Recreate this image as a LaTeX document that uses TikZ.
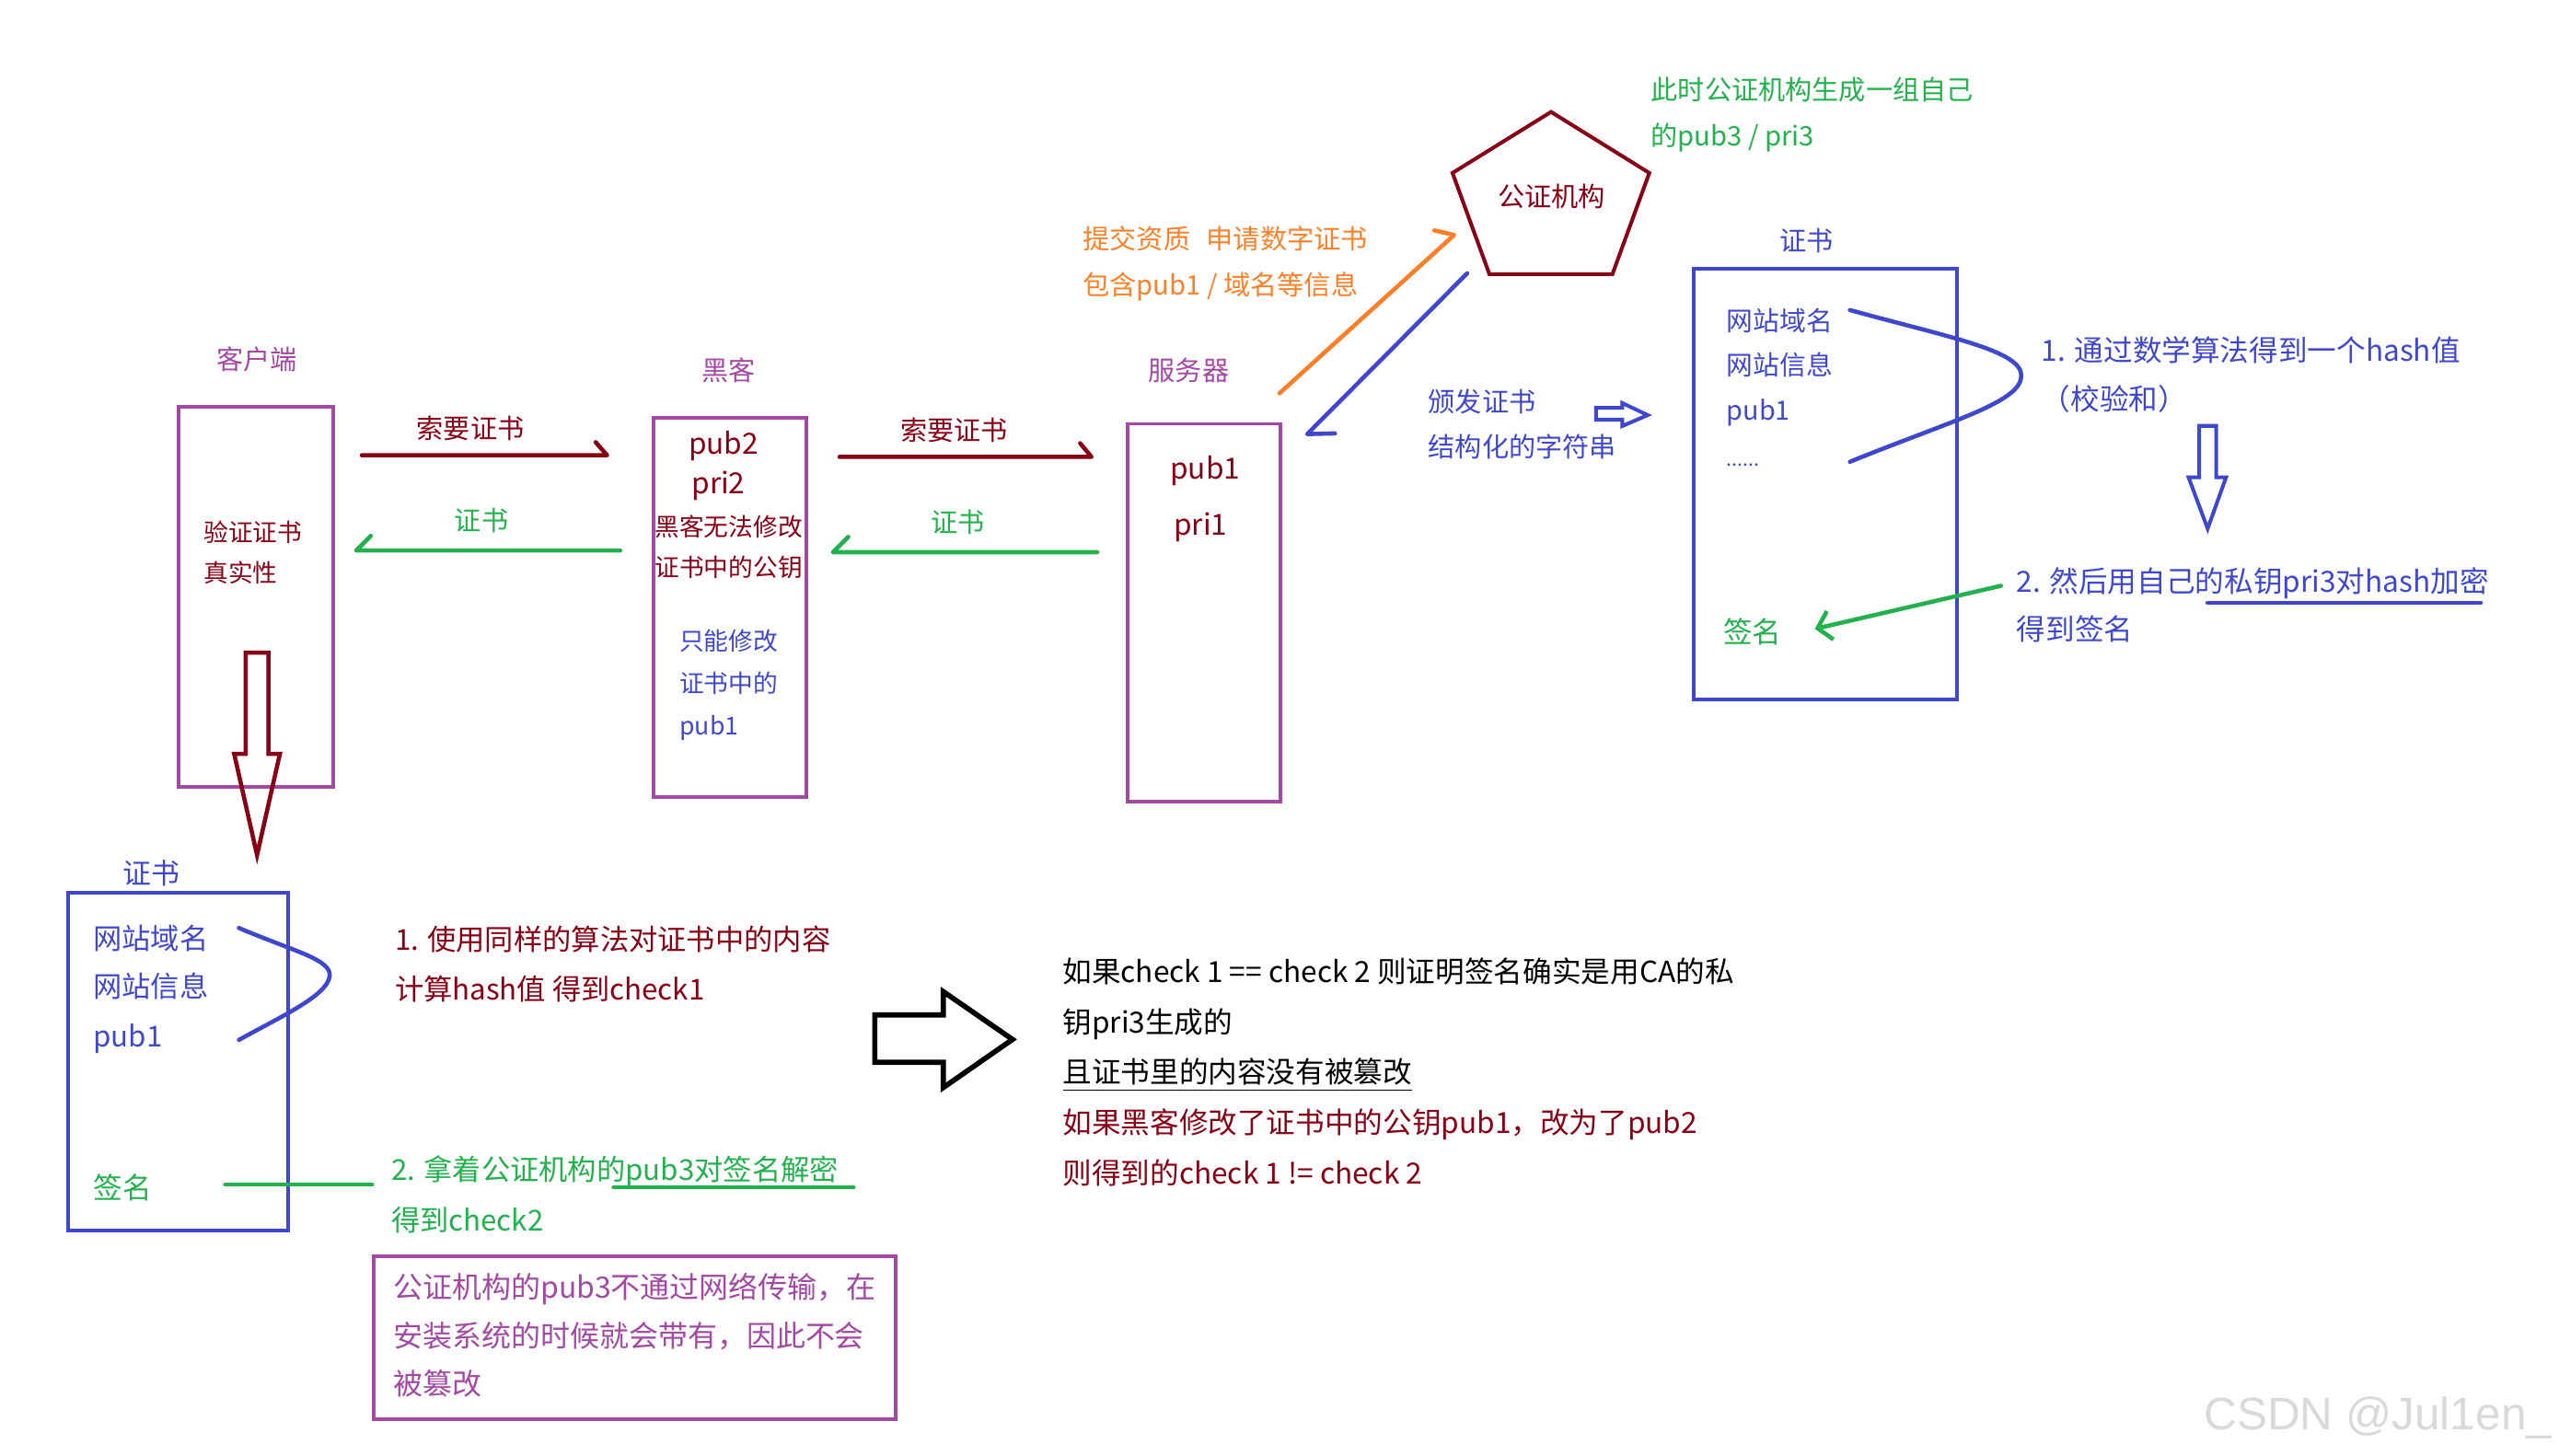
\documentclass[tikz,border=0pt]{standalone}
\usepackage{fontspec}
\setmainfont{Noto Sans CJK SC}
\newfontfamily\wmfont{Liberation Sans}
\usetikzlibrary{arrows.meta}
\definecolor{cpurple}{HTML}{A349A4}
\definecolor{cdred}{HTML}{880015}
\definecolor{cgreen}{HTML}{22B14C}
\definecolor{cblue}{HTML}{3F48CC}
\definecolor{corange}{HTML}{FF7F27}
\newlength\du \setlength\du{0.01773cm}
\newcommand\myfs[2]{\fontsize{#1pt}{#2pt}\selectfont}
\begin{document}
\begin{tikzpicture}[x=0.01773cm,y=-0.01773cm,
  box/.style={draw=#1, line width=1.1pt, inner sep=0, rectangle},
  lbl/.style={inner sep=0, text=#1, font=\myfs{8.3}{14}},
  blk/.style={inner sep=0, anchor=west, align=left},
  stroke/.style={line width=1.3pt, line cap=round, line join=round},
  hollow/.style={line width=1.15pt, line join=miter},
]
\fill[white] (0,0) rectangle (1568,892);
\useasboundingbox (0,0) rectangle (1568,892);

% ---------- client ----------
\node[lbl=cpurple] (clientlbl) at (157.5,220) {客户端};
\node[box=cpurple, minimum width=94.7\du, minimum height=232.7\du] (client) at (156.9,365.7) {};
\node[blk, text=cdred, font=\myfs{7.6}{12.6}] (verify) at (124.5,338.4) {验证证书\\真实性};
\draw[hollow, cdred, line width=1.3pt] (150.5,400) -- (164.5,400) -- (164.5,462) -- (171.5,462) -- (157.5,524) -- (143.5,462) -- (150.5,462) -- cycle;

% ---------- hacker ----------
\node[lbl=cpurple] (hackerlbl) at (446.3,227) {黑客};
\node[box=cpurple, minimum width=93.7\du, minimum height=232.3\du] (hacker) at (447.2,372.2) {};
\node[inner sep=0, text=cdred, font=\myfs{9}{12}] (pub2) at (443.4,273.2) {pub2};
\node[inner sep=0, text=cdred, font=\myfs{9}{12}] (pri2) at (440.2,297.8) {pri2};
\node[inner sep=0, text=cdred, font=\myfs{7.6}{12}] (hk1) at (446.5,323) {黑客无法修改};
\node[inner sep=0, text=cdred, font=\myfs{7.6}{12}] (hk2) at (446.5,347.8) {证书中的公钥};
\node[blk, text=cblue, font=\myfs{7.6}{13}] (hk3) at (416,419.8) {只能修改\\证书中的\\pub1};

% ---------- server ----------
\node[lbl=cpurple] (serverlbl) at (728.4,226.7) {服务器};
\node[box=cpurple, minimum width=93.3\du, minimum height=231.6\du] (server) at (737.7,375.5) {};
\node[inner sep=0, text=cdred, font=\myfs{9}{12}] (pub1s) at (738.4,288.4) {pub1};
\node[inner sep=0, text=cdred, font=\myfs{9}{12}] (pri1s) at (735.7,323) {pri1};

% ---------- client <-> hacker ----------
\coordinate (r1s) at (221.7,279); \coordinate (r1e) at (372,279);
\draw[stroke, cdred] (r1s) -- (r1e) -- ++(-7,-8);
\node[lbl=cdred] (r1lbl) at (288.3,262.7) {索要证书};
\coordinate (c1s) at (380,337.4); \coordinate (c1e) at (218.2,337.4);
\draw[stroke, cgreen] (c1s) -- (c1e) -- ++(9,-9);
\node[lbl=cgreen] (c1lbl) at (295,319) {证书};

% ---------- hacker <-> server ----------
\coordinate (r2s) at (514.4,280); \coordinate (r2e) at (668.8,280);
\draw[stroke, cdred] (r2s) -- (r2e) -- ++(-7,-8.4);
\node[lbl=cdred] (r2lbl) at (584.6,263.7) {索要证书};
\coordinate (c2s) at (672.3,338.4); \coordinate (c2e) at (510.4,338.4);
\draw[stroke, cgreen] (c2s) -- (c2e) -- ++(9.4,-9.4);
\node[lbl=cgreen] (c2lbl) at (587,320) {证书};

% ---------- server <-> CA ----------
\coordinate (os) at (784,241); \coordinate (oe) at (891,144);
\draw[stroke, corange] (os) -- (oe) -- ++(-12.2,-2.8);
\node[blk, text=corange, font=\myfs{8.3}{14.2}] (otxt) at (663.2,161.7) {提交资质\hspace{0.6em}申请数字证书\\包含pub1 / 域名等信息};
\coordinate (bs) at (899,167.5); \coordinate (be) at (801,266);
\draw[stroke, cblue] (bs) -- (be) -- ++(17,-0.4);

% ---------- CA ----------
\draw[line width=1.15pt, cdred, line join=miter] (950.4,68.6) -- (1010.6,106) -- (988,168) -- (912.6,168) -- (890,106) -- cycle;
\node[lbl=cdred] (ca) at (950.8,120.3) {公证机构};
\node[blk, text=cgreen, font=\myfs{8.3}{14.2}] (gtxt) at (1011.3,70.5) {此时公证机构生成一组自己\\的pub3 / pri3};
\node[blk, text=cblue, font=\myfs{8.3}{13.8}] (issue) at (874.8,259.9) {颁发证书\\结构化的字符串};
\draw[hollow, cblue] (978,249.9) -- (994,249.9) -- (994,247) -- (1009.6,254.4) -- (994,261.1) -- (994,257.2) -- (978,257.2) -- cycle;

% ---------- certificate (top) ----------
\node[lbl=cblue] (certlbl) at (1107,147.6) {证书};
\node[box=cblue, minimum width=161\du, minimum height=264\du] (cert) at (1118.5,296.6) {};
\node[inner sep=0, anchor=west, text=cblue, font=\myfs{8.2}{12}] (ct1) at (1057.6,196.5) {网站域名};
\node[inner sep=0, anchor=west, text=cblue, font=\myfs{8.2}{12}] (ct2) at (1057.6,223.7) {网站信息};
\node[inner sep=0, anchor=west, text=cblue, font=\myfs{8.2}{12}] (ct3) at (1057.6,252.9) {pub1};
\node[inner sep=0, anchor=base west, text=cblue, font=\myfs{6}{12}] (ct4) at (1057.6,285.5) {......};
\draw[stroke, cblue] (1133.5,190) .. controls (1195,207) and (1240,215) .. (1238.5,231) .. controls (1237,247) and (1195,258) .. (1133.5,283);
\node[blk, text=cblue, font=\myfs{9}{15.1}] (step1) at (1250.6,229.4) {1. 通过数学算法得到一个hash值\\（校验和）};
\draw[hollow, cblue] (1347.5,261) -- (1358,261) -- (1358,292.5) -- (1364,292.5) -- (1352.7,324) -- (1341,292.5) -- (1347.5,292.5) -- cycle;
\node[blk, text=cblue, font=\myfs{9}{14.7}] (step2) at (1235.3,370.8) {2. 然后用自己的私钥pri3对hash加密\\得到签名};
\coordinate (ul1s) at (1352.6,369.4); \coordinate (ul1e) at (1520,369.4);
\draw[stroke, cblue] (ul1s) -- (ul1e);
\node[inner sep=0, anchor=west, text=cgreen, font=\myfs{9}{12}] (sig) at (1055.5,387.3) {签名};
\coordinate (ga) at (1226,359); \coordinate (gb) at (1112,385.4);
\draw[stroke, cgreen, -{Straight Barb[length=4pt,width=9pt]}] (ga) -- (gb);

% ---------- certificate (bottom) ----------
\node[lbl=cblue, font=\myfs{8.8}{12}] (cert2lbl) at (92.7,534.9) {证书};
\node[box=cblue, minimum width=135\du, minimum height=207\du] (cert2) at (109,650.5) {};
\node[inner sep=0, anchor=west, text=cblue, font=\myfs{8.9}{12}] (cb1) at (56.8,575.3) {网站域名};
\node[inner sep=0, anchor=west, text=cblue, font=\myfs{8.9}{12}] (cb2) at (56.8,604.4) {网站信息};
\node[inner sep=0, anchor=west, text=cblue, font=\myfs{8.9}{12}] (cb3) at (56.8,636.4) {pub1};
\node[inner sep=0, anchor=west, text=cgreen, font=\myfs{9}{12}] (sig2) at (56.8,727.6) {签名};
\draw[stroke, cblue] (146.4,568.7) .. controls (180,583) and (203,588) .. (202,598) .. controls (201,610) and (172,623) .. (146.4,637.3);
\coordinate (gl1) at (138,726); \coordinate (gl2) at (228,726);
\draw[stroke, cgreen] (gl1) -- (gl2);

\node[blk, text=cdred, font=\myfs{8.9}{15.6}] (chk1) at (241.6,590.8) {1. 使用同样的算法对证书中的内容\\计算hash值 得到check1};
\node[blk, text=cgreen, font=\myfs{8.9}{15.6}] (chk2) at (239.4,731.8) {2. 拿着公证机构的pub3对签名解密\\得到check2};
\coordinate (ul2s) at (376,727.6); \coordinate (ul2e) at (523,727.6);
\draw[stroke, cgreen] (ul2s) -- (ul2e);

\node[box=cpurple, minimum width=320\du, minimum height=99.6\du] (note) at (388.8,819.7) {};
\node[blk, text=cpurple, font=\myfs{9.1}{14.9}] (notetxt) at (240.6,818.3) {公证机构的pub3不通过网络传输，在\\安装系统的时候就会带有，因此不会\\被篡改};

\draw[hollow, line width=1.6pt] (536,622) -- (578,622) -- (578,607.7) -- (620.4,637) -- (578,666.5) -- (578,651) -- (536,651) -- cycle;

\node[blk, text=black, font=\myfs{9}{15.6}] (concl) at (650.8,657) {如果check 1 == check 2 则证明签名确实是用CA的私\\钥pri3生成的\\\underline{且证书里的内容没有被篡改}\\\textcolor{cdred}{如果黑客修改了证书中的公钥pub1，改为了pub2}\\\textcolor{cdred}{则得到的check 1 != check 2}};

\node[anchor=base west, inner sep=0, text=black!15, font=\wmfont\fontsize{14.1pt}{16pt}\selectfont] (wm) at (1350,876) {CSDN @Jul1en\_};
\end{tikzpicture}
\end{document}
